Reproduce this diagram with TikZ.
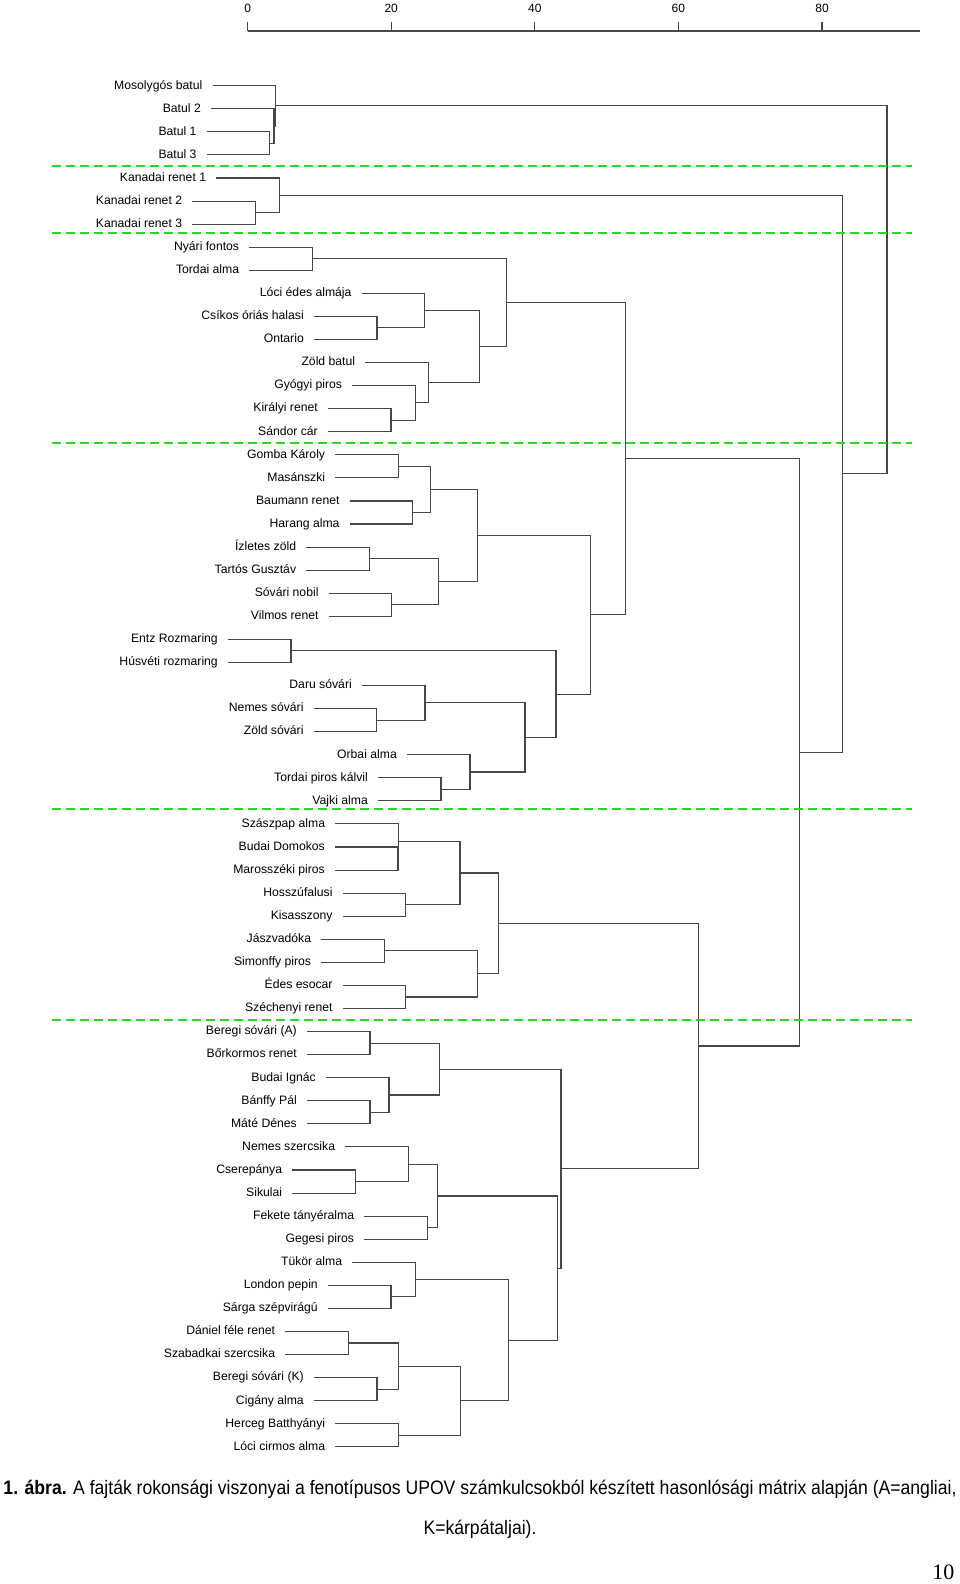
\documentclass[tikz,border=0pt]{standalone}
\usepackage{fontspec}
\setmainfont{Liberation Sans}
\newfontfamily\pagefont{Liberation Serif}
\usetikzlibrary{calc}

\definecolor{cutgreen}{RGB}{40,215,40}

\tikzset{
  leaflbl/.style={anchor=east, inner xsep=10pt, inner ysep=0pt,
    text height=1.5ex, text depth=.25ex, font=\fontsize{12.2}{14}\selectfont},
  branch/.style={draw=black!72, line width=1.1pt},
  cutline/.style={draw=cutgreen, line width=2pt, dash pattern=on 9pt off 5pt},
  ticklbl/.style={font=\fontsize{12}{14}\selectfont}
}

% leaf: name, row, x of its merge, text
\newcommand{\leafnode}[4]{\node[leaflbl] (#1) at ({#3-63},{85.7+(#2-1)*23.07}) {#4};}
% merge: name, upper child, lower child, x
\newcommand{\mergenode}[4]{%
  \coordinate (tmp) at ($(#2)!.5!(#3)$);
  \coordinate (#1) at (tmp -| #4,0);
  \draw[branch] (#2) -- (#2 -| #1) -- (#3 -| #1) -- (#3);}

\begin{document}
\begin{tikzpicture}[x=1pt, y=-1pt]
\useasboundingbox (0,0) rectangle (960,1584);

% scale
\draw[branch] (247.6,31) -- (920,31);
\foreach \v in {0,20,40,60,80} {
  \draw[branch] ({247.6+7.18*\v},22) -- ({247.6+7.18*\v},31);
  \node[ticklbl] (t\v) at ({247.6+7.18*\v},8) {\v};
}

% leaves
\leafnode{mb}{1}{275.5}{Mosolygós batul}
\leafnode{b2}{2}{274}{Batul 2}
\leafnode{b1}{3}{269.7}{Batul 1}
\leafnode{b3}{4}{269.7}{Batul 3}
\leafnode{kr1}{5}{279.3}{Kanadai renet 1}
\leafnode{kr2}{6}{255.3}{Kanadai renet 2}
\leafnode{kr3}{7}{255.3}{Kanadai renet 3}
\leafnode{nyf}{8}{312.3}{Nyári fontos}
\leafnode{ta}{9}{312.3}{Tordai alma}
\leafnode{lea}{10}{424.7}{Lóci édes almája}
\leafnode{coh}{11}{377}{Csíkos óriás halasi}
\leafnode{ont}{12}{377}{Ontario}
\leafnode{zb}{13}{428.3}{Zöld batul}
\leafnode{gyp}{14}{415.3}{Gyógyi piros}
\leafnode{kir}{15}{391}{Királyi renet}
\leafnode{sc}{16}{391}{Sándor cár}
\leafnode{gk}{17}{398.3}{Gomba Károly}
\leafnode{mas}{18}{398.3}{Masánszki}
\leafnode{bau}{19}{412.7}{Baumann renet}
\leafnode{har}{20}{412.7}{Harang alma}
\leafnode{izl}{21}{369.3}{Ízletes zöld}
\leafnode{tg}{22}{369.3}{Tartós Gusztáv}
\leafnode{son}{23}{391.7}{Sóvári nobil}
\leafnode{vr}{24}{391.7}{Vilmos renet}
\leafnode{er}{25}{291}{Entz Rozmaring}
\leafnode{hr}{26}{291}{Húsvéti rozmaring}
\leafnode{ds}{27}{425}{Daru sóvári}
\leafnode{nsv}{28}{376.7}{Nemes sóvári}
\leafnode{zsv}{29}{376.7}{Zöld sóvári}
\leafnode{oa}{30}{470}{Orbai alma}
\leafnode{tpk}{31}{441}{Tordai piros kálvil}
\leafnode{va}{32}{441}{Vajki alma}
\leafnode{sza}{33}{398.3}{Szászpap alma}
\leafnode{bd}{34}{398}{Budai Domokos}
\leafnode{mp}{35}{398}{Marosszéki piros}
\leafnode{hf}{36}{405.7}{Hosszúfalusi}
\leafnode{kis}{37}{405.7}{Kisasszony}
\leafnode{jv}{38}{384.3}{Jászvadóka}
\leafnode{sp}{39}{384.3}{Simonffy piros}
\leafnode{ee}{40}{405.7}{Édes esocar}
\leafnode{szr}{41}{405.7}{Széchenyi renet}
\leafnode{bsa}{42}{370}{Beregi sóvári (A)}
\leafnode{bkr}{43}{370}{Bőrkormos renet}
\leafnode{bi}{44}{389}{Budai Ignác}
\leafnode{bp}{45}{370}{Bánffy Pál}
\leafnode{md}{46}{370}{Máté Dénes}
\leafnode{nsz}{47}{408.3}{Nemes szercsika}
\leafnode{cse}{48}{355.3}{Cserepánya}
\leafnode{sik}{49}{355.3}{Sikulai}
\leafnode{fta}{50}{427.3}{Fekete tányéralma}
\leafnode{gp}{51}{427.3}{Gegesi piros}
\leafnode{tka}{52}{415.3}{Tükör alma}
\leafnode{lp}{53}{391}{London pepin}
\leafnode{ssv}{54}{391}{Sárga szépvirágú}
\leafnode{dfr}{55}{348.3}{Dániel féle renet}
\leafnode{ssz}{56}{348.3}{Szabadkai szercsika}
\leafnode{bsk}{57}{377}{Beregi sóvári (K)}
\leafnode{ca}{58}{377}{Cigány alma}
\leafnode{hb}{59}{398.3}{Herceg Batthyányi}
\leafnode{lca}{60}{398.3}{Lóci cirmos alma}

% clusters
\mergenode{m-b13}{b1}{b3}{269.7}
\mergenode{m-b213}{b2}{m-b13}{274}
\mergenode{m-batul}{mb}{m-b213}{275.5}
\mergenode{m-k23}{kr2}{kr3}{255.3}
\mergenode{m-kan}{kr1}{m-k23}{279.3}
\mergenode{m-nt}{nyf}{ta}{312.3}
\mergenode{m-co}{coh}{ont}{377}
\mergenode{m-lco}{lea}{m-co}{424.7}
\mergenode{m-ks}{kir}{sc}{391}
\mergenode{m-gks}{gyp}{m-ks}{415.3}
\mergenode{m-zgks}{zb}{m-gks}{428.3}
\mergenode{m-lz}{m-lco}{m-zgks}{479.3}
\mergenode{m-ntlz}{m-nt}{m-lz}{506.3}
\mergenode{m-gm}{gk}{mas}{398.3}
\mergenode{m-bh}{bau}{har}{412.7}
\mergenode{m-gmbh}{m-gm}{m-bh}{430.7}
\mergenode{m-it}{izl}{tg}{369.3}
\mergenode{m-sv}{son}{vr}{391.7}
\mergenode{m-itsv}{m-it}{m-sv}{438.3}
\mergenode{m-gv}{m-gmbh}{m-itsv}{477.5}
\mergenode{m-eh}{er}{hr}{291}
\mergenode{m-nz}{nsv}{zsv}{376.7}
\mergenode{m-dnz}{ds}{m-nz}{425}
\mergenode{m-tv}{tpk}{va}{441}
\mergenode{m-otv}{oa}{m-tv}{470}
\mergenode{m-sov}{m-dnz}{m-otv}{525}
\mergenode{m-ehsov}{m-eh}{m-sov}{556}
\mergenode{m-gvr}{m-gv}{m-ehsov}{590.3}
\mergenode{m-mid}{m-ntlz}{m-gvr}{625.7}
\mergenode{m-bm}{bd}{mp}{398}
\mergenode{m-sbm}{sza}{m-bm}{398.3}
\mergenode{m-hk}{hf}{kis}{405.7}
\mergenode{m-sbmhk}{m-sbm}{m-hk}{460}
\mergenode{m-js}{jv}{sp}{384.3}
\mergenode{m-es}{ee}{szr}{405.7}
\mergenode{m-jses}{m-js}{m-es}{477.3}
\mergenode{m-szek}{m-sbmhk}{m-jses}{498.5}
\mergenode{m-bb}{bsa}{bkr}{370}
\mergenode{m-bmd}{bp}{md}{370}
\mergenode{m-ibm}{bi}{m-bmd}{389}
\mergenode{m-bbi}{m-bb}{m-ibm}{439.3}
\mergenode{m-cs}{cse}{sik}{355.3}
\mergenode{m-ncs}{nsz}{m-cs}{408.3}
\mergenode{m-fg}{fta}{gp}{427.3}
\mergenode{m-ncsfg}{m-ncs}{m-fg}{437.3}
\mergenode{m-ls}{lp}{ssv}{391}
\mergenode{m-tls}{tka}{m-ls}{415.3}
\mergenode{m-dsz}{dfr}{ssz}{348.3}
\mergenode{m-bc}{bsk}{ca}{377}
\mergenode{m-dbc}{m-dsz}{m-bc}{398.3}
\mergenode{m-hl}{hb}{lca}{398.3}
\mergenode{m-dbchl}{m-dbc}{m-hl}{460.7}
\mergenode{m-tlsd}{m-tls}{m-dbchl}{508.3}
\mergenode{m-low}{m-ncsfg}{m-tlsd}{557.3}
\mergenode{m-bbil}{m-bbi}{m-low}{561}
\mergenode{m-south}{m-szek}{m-bbil}{698.7}
\mergenode{m-big}{m-mid}{m-south}{799.3}
\mergenode{m-kbig}{m-kan}{m-big}{842.3}
\mergenode{m-root}{m-batul}{m-kbig}{887}

% cut lines
\foreach \cy in {166,233,443,809,1020}
  \draw[cutline] (52,\cy) -- (912,\cy);

% caption
\node (cap1) at (480,1489) {\fontsize{19.5}{22}\selectfont\scalebox{0.902}[1]{\textbf{1. ábra.} A fajták rokonsági viszonyai a fenotípusos UPOV számkulcsokból készített hasonlósági mátrix alapján (A=angliai,}};
\node (cap2) at (480,1529) {\fontsize{19.5}{22}\selectfont\scalebox{0.902}[1]{K=kárpátaljai).}};
\node[anchor=east] (pagenum) at (958,1572) {\pagefont\fontsize{22}{24}\selectfont 10};
\end{tikzpicture}
\end{document}
